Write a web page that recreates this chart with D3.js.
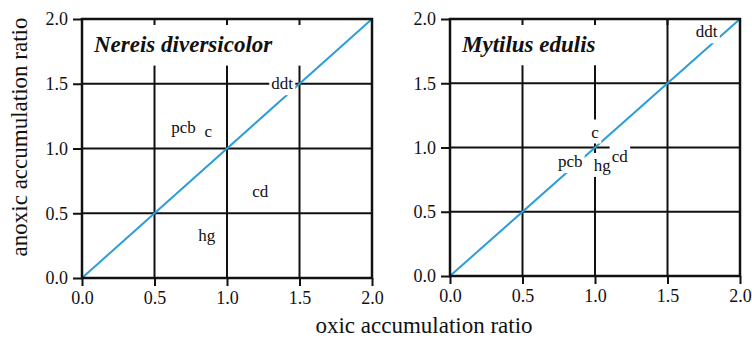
<!DOCTYPE html>
<html>
<head>
<meta charset="utf-8">
<script src="https://cdn.jsdelivr.net/npm/d3@7"></script>
<style>
  body { margin: 0; background: #fff; }
</style>
</head>
<body>
<div id="chart"></div>
<script>
const serif = '"Liberation Serif", "Times New Roman", Times, "DejaVu Serif", serif';

// axis ticks shared by both panels
const tickValues = [0, 0.5, 1.0, 1.5, 2.0];
const gridValues = [0.5, 1.0, 1.5];
const lineOfEquality = [0, 2];

// Nereis diversicolor: label positions (oxic ratio, anoxic ratio)
const nereisLabels = ["pcb", "c", "ddt", "cd", "hg"];
const nereisOxic = [0.70, 0.87, 1.38, 1.23, 0.86];
const nereisAnoxic = [1.16, 1.13, 1.50, 0.67, 0.33];

// Mytilus edulis
const mytilusLabels = ["ddt", "c", "pcb", "hg", "cd"];
const mytilusOxic = [1.77, 1.00, 0.83, 1.05, 1.17];
const mytilusAnoxic = [1.90, 1.12, 0.89, 0.86, 0.93];

const svg = d3.select("#chart")
  .append("svg")
  .attr("width", 752)
  .attr("height", 338);

function drawPanel(cfg) {
  const x = d3.scaleLinear().domain([0, 2]).range([cfg.left, cfg.right]);
  const y = d3.scaleLinear().domain([0, 2]).range([cfg.bottom, cfg.top]);
  const g = svg.append("g");

  // grid
  g.selectAll(".vgrid").data(gridValues).enter().append("line")
    .attr("x1", d => x(d)).attr("x2", d => x(d))
    .attr("y1", y(0)).attr("y2", y(2))
    .attr("stroke", "#111").attr("stroke-width", 2);
  g.selectAll(".hgrid").data(gridValues).enter().append("line")
    .attr("x1", x(0)).attr("x2", x(2))
    .attr("y1", d => y(d)).attr("y2", d => y(d))
    .attr("stroke", "#111").attr("stroke-width", 2);

  // white box behind the species name
  g.append("rect")
    .attr("x", x(0)).attr("y", y(2))
    .attr("width", x(cfg.titleTo) - x(0))
    .attr("height", y(cfg.titleBottom) - y(2))
    .attr("fill", "#fff");

  // small inward ticks on top frame
  g.selectAll(".ttick").data(gridValues).enter().append("line")
    .attr("x1", d => x(d)).attr("x2", d => x(d))
    .attr("y1", y(2)).attr("y2", y(2) + 6)
    .attr("stroke", "#111").attr("stroke-width", 2);

  // axes
  g.append("g")
    .attr("transform", `translate(0,${y(0)})`)
    .call(d3.axisBottom(x).tickValues(tickValues).tickFormat(d3.format(".1f")).tickSize(8).tickPadding(5))
    .call(a => a.select(".domain").remove())
    .call(a => a.selectAll("line").attr("stroke", "#111").attr("stroke-width", 2))
    .call(a => a.selectAll("text").style("font-size", "18px").style("font-family", serif).attr("fill", "#111"));
  g.append("g")
    .attr("transform", `translate(${x(0)},0)`)
    .call(d3.axisLeft(y).tickValues(tickValues).tickFormat(d3.format(".1f")).tickSize(9).tickPadding(5))
    .call(a => a.select(".domain").remove())
    .call(a => a.selectAll("line").attr("stroke", "#111").attr("stroke-width", 2))
    .call(a => a.selectAll("text").style("font-size", "18px").style("font-family", serif).attr("fill", "#111"));

  // 1:1 line
  g.append("line")
    .attr("x1", x(lineOfEquality[0])).attr("y1", y(lineOfEquality[0]))
    .attr("x2", x(lineOfEquality[1])).attr("y2", y(lineOfEquality[1]))
    .attr("stroke", "#2b9dd8").attr("stroke-width", 2);

  // species name
  g.append("text")
    .attr("x", x(0) + 12).attr("y", y(2) + 33)
    .style("font-family", serif)
    .style("font-size", "23px").style("font-weight", "bold").style("font-style", "italic")
    .attr("fill", "#111")
    .text(cfg.title);

  // contaminant labels with white knockout
  const items = cfg.labels.map((l, i) => ({ label: l, ox: cfg.oxic[i], an: cfg.anoxic[i] }));
  const lab = g.selectAll(".lab").data(items).enter().append("g");
  const txt = lab.append("text")
    .attr("x", d => x(d.ox)).attr("y", d => y(d.an))
    .attr("dy", "0.32em")
    .attr("text-anchor", "middle")
    .style("font-family", serif)
    .style("font-size", "17px")
    .attr("fill", "#111")
    .text(d => d.label);
  txt.each(function() {
    const b = this.getBBox();
    d3.select(this.parentNode).insert("rect", "text")
      .attr("x", b.x - 2).attr("y", b.y - 3)
      .attr("width", b.width + 4).attr("height", b.height + 5)
      .attr("fill", "#fff");
  });

  // frame on top
  g.append("rect")
    .attr("x", x(0)).attr("y", y(2))
    .attr("width", x(2) - x(0)).attr("height", y(0) - y(2))
    .attr("fill", "none").attr("stroke", "#111").attr("stroke-width", 2.5);
}

drawPanel({
  left: 82, right: 372, top: 19, bottom: 278,
  title: "Nereis diversicolor", titleTo: 1.6, titleBottom: 1.64,
  labels: nereisLabels, oxic: nereisOxic, anoxic: nereisAnoxic
});
drawPanel({
  left: 450, right: 740, top: 19, bottom: 276,
  title: "Mytilus edulis", titleTo: 1.1, titleBottom: 1.64,
  labels: mytilusLabels, oxic: mytilusOxic, anoxic: mytilusAnoxic
});

// shared axis titles
svg.append("text")
  .attr("x", 424).attr("y", 333)
  .attr("text-anchor", "middle")
  .style("font-family", serif)
  .style("font-size", "23px")
  .attr("fill", "#111")
  .text("oxic accumulation ratio");
svg.append("text")
  .attr("transform", "translate(27,137) rotate(-90)")
  .attr("text-anchor", "middle")
  .style("font-family", serif)
  .style("font-size", "23px")
  .attr("fill", "#111")
  .text("anoxic accumulation ratio");
</script>
</body>
</html>
